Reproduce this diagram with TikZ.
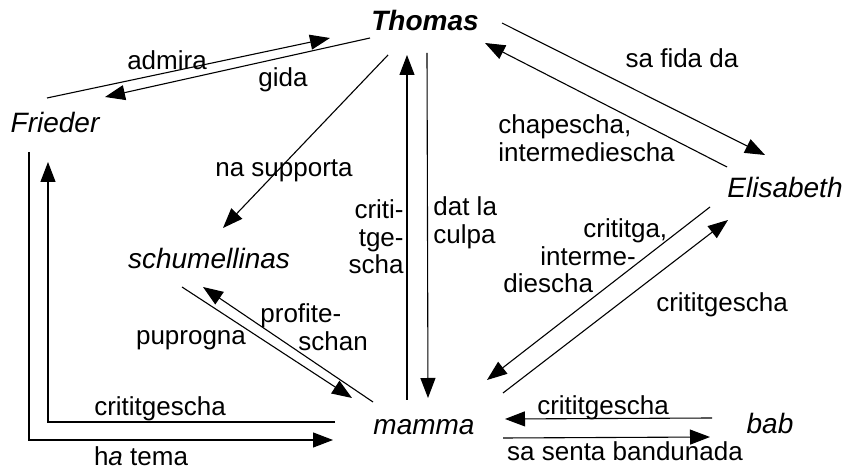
\documentclass[tikz,border=0pt]{standalone}
\usepackage{fontspec}
\setmainfont{Liberation Sans}
\usetikzlibrary{arrows.meta}
\begin{document}
\begin{tikzpicture}[x=0.5pt,y=-0.5pt,
  person/.style={font=\fontsize{14}{16}\selectfont\itshape, inner sep=0pt},
  lbl/.style={font=\fontsize{13}{13.75}\selectfont, inner sep=0pt},
  arr/.style={line width=0.55pt, -{Triangle[length=10pt,width=7.5pt]}},
  ln/.style={line width=0.55pt}]
\useasboundingbox (0,0) rectangle (846,469);

% persons
\node[person, font=\fontsize{14}{16}\selectfont\bfseries\itshape] (thomas) at (425,21) {Thomas};
\node[person] (frieder) at (55,123) {Frieder};
\node[person] (elisabeth) at (785,187) {Elisabeth};
\node[person] (schum) at (209,258) {schumellinas};
\node[person] (mamma) at (424,427) {mamma};
\node[person] (bab) at (770,423) {bab};

% connector end points
\coordinate (fT1) at (47,98);   \coordinate (fT2) at (330,38);
\coordinate (tF1) at (370,38);  \coordinate (tF2) at (105,97);
\coordinate (tS1) at (388,55);  \coordinate (tS2) at (223,228);
\coordinate (mT1) at (407,400); \coordinate (mT2) at (407,55);
\coordinate (tM1) at (427,53);  \coordinate (tM2) at (428,398);
\coordinate (tE1) at (502,23);  \coordinate (tE2) at (765,155);
\coordinate (eT1) at (727,167); \coordinate (eT2) at (485,43);
\coordinate (eM1) at (710,207); \coordinate (eM2) at (487,380);
\coordinate (mE1) at (503,393); \coordinate (mE2) at (728,220);
\coordinate (bM1) at (712,418); \coordinate (bM2) at (505,419);
\coordinate (mB1) at (503,438); \coordinate (mB2) at (710,437);
\coordinate (sM1) at (182,287); \coordinate (sM2) at (352,398);
\coordinate (mS1) at (373,402); \coordinate (mS2) at (203,287);
\coordinate (mF1) at (335,422); \coordinate (mFc) at (48,422); \coordinate (mF2) at (48,162);
\coordinate (fM1) at (29,152);  \coordinate (fMc) at (29,440); \coordinate (fM2) at (333,440);

% connectors
\draw[arr] (fT1) -- (fT2);
\draw[arr] (tF1) -- (tF2);
\draw[arr] (tS1) -- (tS2);
\draw[arr] (mT1) -- (mT2);
\draw[arr] (tM1) -- (tM2);
\draw[arr] (tE1) -- (tE2);
\draw[arr] (eT1) -- (eT2);
\draw[arr] (eM1) -- (eM2);
\draw[arr] (mE1) -- (mE2);
\draw[arr] (bM1) -- (bM2);
\draw[arr] (mB1) -- (mB2);
\draw[arr] (sM1) -- (sM2);
\draw[arr] (mS1) -- (mS2);
\draw[arr] (mF1) -- (mFc) -- (mF2);
\draw[arr] (fM1) -- (fMc) -- (fM2);

% labels
\node[lbl] (l1) at (167,60) {admira};
\node[lbl] (l2) at (283,80) {gida};
\node[lbl] (l3) at (284,171) {na supporta};
\node[lbl, align=right, anchor=east] (l4) at (404,237) {criti-\\tge-\\scha};
\node[lbl, align=left, anchor=west] (l5) at (433,223) {dat la\\culpa};
\node[lbl] (l6) at (682,58) {sa fida da};
\node[lbl, align=left, anchor=west] (l7) at (498,138) {chapescha,\\intermediescha};
\node[lbl, align=left, anchor=west] (l8) at (503,256) {\hspace*{40pt}crititga,\\\hspace*{18.5pt}interme-\\diescha};
\node[lbl] (l9) at (722,305) {crititgescha};
\node[lbl] (l10) at (603,408) {crititgescha};
\node[lbl] (l11) at (625,451) {sa senta bandunada};
\node[lbl] (l12) at (191,340) {puprogna};
\node[lbl, align=left, anchor=west] (l13) at (260,327) {profite-\\\hspace*{19pt}schan};
\node[lbl] (l14) at (160,409) {crititgescha};
\node[lbl] (l15) at (141,456) {h\textit{a} tema};
\end{tikzpicture}
\end{document}
